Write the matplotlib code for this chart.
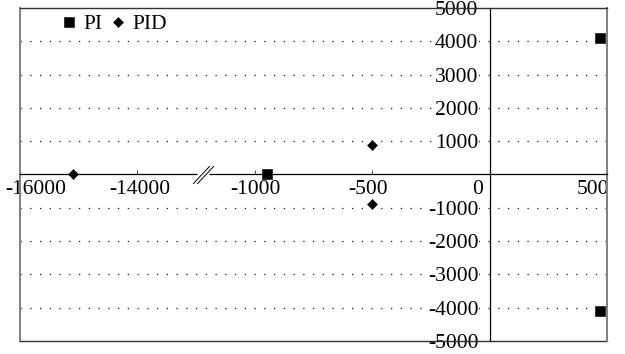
import numpy as np
import matplotlib
matplotlib.use("Agg")
import matplotlib.pyplot as plt
import matplotlib.transforms as mtransforms
from matplotlib.lines import Line2D
from matplotlib.path import Path

plt.rcParams['font.family'] = ['Liberation Serif', 'DejaVu Serif']
plt.rcParams['axes.unicode_minus'] = False

# ---- data ----
x_ticks = [-16000, -14000, -1000, -500, 0, 500]
x_tick_labels = ['-16000', '-14000', '-1000', '-500', '0', '500']
y_ticks = [-5000, -4000, -3000, -2000, -1000, 1000, 2000, 3000, 4000, 5000]
y_tick_labels = ['-5000', '-4000', '-3000', '-2000', '-1000', '1000', '2000', '3000', '4000', '5000']
grid_vals = [-4000, -3000, -2000, -1000, 1000, 2000, 3000, 4000]

pi_x = [-950, 470, 470]
pi_y = [0, 4100, -4100]
pid_x = [-15100, -500, -500]
pid_y = [0, 900, -900]

# ---- piecewise (broken) x scale ----
tick_pos = np.arange(len(x_ticks), dtype=float)
def fwd(x):
    return np.interp(x, x_ticks, tick_pos)
def inv(p):
    return np.interp(p, tick_pos, x_ticks)

FS = 15.5

fig = plt.figure(figsize=(6.25, 3.54), dpi=100)
ax = fig.add_axes([20/625, 1-341/354, (607-20)/625, (341-8)/354])
ax.set_xscale('function', functions=(fwd, inv))
ax.set_xlim(-16000, 500)
ax.set_ylim(-5000, 5000)

# dotted gridlines
ax.hlines(grid_vals, -16000, 500, colors='#111111', linewidth=0.9,
          linestyles=(0, (1, 6.8)), zorder=1)

# points
ax.plot(pi_x, pi_y, linestyle='none', marker='s', markersize=6.5,
        color='black', mew=0.4, label='PI', zorder=3)
ax.plot(pid_x, pid_y, linestyle='none', marker='D', markersize=5.0,
        color='black', mew=0.4, label='PID', zorder=3)

# spines: axes through zero
ax.spines['left'].set_position(('data', 0))
ax.spines['bottom'].set_position(('data', 0))
ax.spines['left'].set_color('black')
ax.spines['bottom'].set_color('black')
ax.spines['left'].set_linewidth(0.9)
ax.spines['bottom'].set_linewidth(0.9)
ax.spines['top'].set_color('#333333')
ax.spines['top'].set_linewidth(1.0)
ax.spines['right'].set_color('#808080')
ax.spines['right'].set_linewidth(1.4)

# frame lines on left and bottom
ax.add_artist(Line2D([0, 0], [0, 1], transform=ax.transAxes, color='#808080',
                     linewidth=1.4, clip_on=False))
ax.add_artist(Line2D([0, 1], [0, 0], transform=ax.transAxes, color='#333333',
                     linewidth=1.0, clip_on=False))

# ticks
ax.set_xticks(x_ticks)
ax.set_xticklabels(x_tick_labels)
ax.set_yticks(y_ticks)
ax.set_yticklabels(y_tick_labels)
ax.tick_params(axis='x', direction='in', length=3, width=0.8, color='#555555',
               pad=4, labelsize=FS)
ax.tick_params(axis='y', length=0, pad=8, labelsize=FS)

x_offsets_px = [16, 2, 1, -4, -12, -14]
for lab, dx in zip(ax.get_xticklabels(), x_offsets_px):
    lab.set_transform(lab.get_transform() +
                      mtransforms.ScaledTranslation(dx/100, 0, fig.dpi_scale_trans))
for lab in ax.get_yticklabels():
    lab.set_bbox(dict(facecolor='white', edgecolor='none', pad=0.3))

# axis break marker "//"
xb = inv(1.56)
brk = Path([(-10, -9), (6, 8), (-6, -9), (10, 8)],
           [Path.MOVETO, Path.LINETO, Path.MOVETO, Path.LINETO])
ax.plot([xb], [0], linestyle='none', marker='_', markersize=9, color='white',
        mew=2.5, zorder=4, clip_on=False)
ax.plot([xb], [0], linestyle='none', marker=brk, markersize=15, color='black',
        markerfacecolor='none', mew=0.7, zorder=5, clip_on=False)

# legend
ax.legend(loc='upper left', bbox_to_anchor=(63/625, 1-14/354),
          bbox_transform=fig.transFigure, ncol=2, frameon=False, fontsize=FS,
          handlelength=0.55, handletextpad=0.4, columnspacing=0.45,
          borderpad=0, borderaxespad=0)

fig.savefig('out.png', dpi=100)
